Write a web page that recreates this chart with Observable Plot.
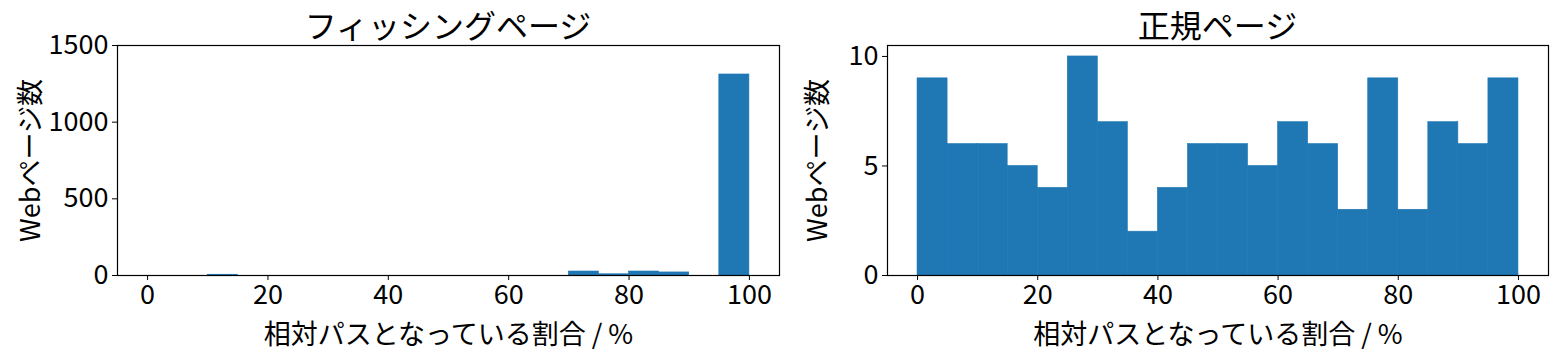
<!DOCTYPE html>
<html><head><meta charset="utf-8">
<script src="https://cdn.jsdelivr.net/npm/d3@7"></script>
<script src="https://cdn.jsdelivr.net/npm/@observablehq/plot@0.6"></script>
<style>
body{margin:0;background:#fff;font-family:"Noto Sans CJK JP","Noto Sans",sans-serif;}
#wrap{display:flex;width:1560px;height:360px;}
.panel{position:relative;}
.title{position:absolute;top:0;height:48px;font-size:32px;line-height:48px;text-align:center;color:#000;}
svg{font-family:"Noto Sans CJK JP","Noto Sans",sans-serif;overflow:visible;}
</style></head>
<body><div id="wrap"><div class="panel" id="p1"></div><div class="panel" id="p2"></div></div>
<script>
const binStarts = [0,5,10,15,20,25,30,35,40,45,50,55,60,65,70,75,80,85,90,95];
const binWidth = 5;
const phishingCounts = [0,0,5,0,0,0,0,0,0,0,0,0,0,0,26,8,26,20,0,1311];
const legitCounts = [9,6,6,5,4,10,7,2,4,6,6,5,7,6,3,9,3,7,6,9];
const titles = ["フィッシングページ","正規ページ"];
const xLabel = "相対パスとなっている割合 / %";
const yLabel = "Webページ数";
const xTicks = [0,20,40,60,80,100];

function make(el, title, counts, yDomain, yTicks, width, ml, mr, labelOffset){
  const data = binStarts.map((s,i)=>({x1:s, x2:s+binWidth, y:counts[i]}));
  const chart = Plot.plot({
    width, height:320, marginLeft:ml, marginRight:mr, marginTop:5, marginBottom:85,
    style:{fontSize:"27px", fontFamily:'"Noto Sans CJK JP","Noto Sans",sans-serif', color:"#000", background:"transparent", overflow:"visible"},
    x:{domain:[-5,105]},
    y:{domain:yDomain},
    marks:[
      Plot.rectY(data,{x1:"x1",x2:"x2",y:"y",fill:"#1f77b4",stroke:"#1f77b4",strokeWidth:0.6,insetLeft:0,insetRight:0}),
      Plot.frame({stroke:"#000",strokeWidth:1.2}),
      Plot.axisX({ticks:xTicks, tickFormat:d=>String(d), tickSize:5, tickPadding:4, label:xLabel, labelAnchor:"center", labelArrow:"none", labelOffset:68, fontSize:27}),
      Plot.axisY({ticks:yTicks, tickFormat:d=>String(d), tickSize:5, tickPadding:4, label:yLabel, labelAnchor:"center", labelArrow:"none", labelOffset:labelOffset, fontSize:27})
    ]
  });
  const t = document.createElement("div");
  t.className="title"; t.textContent=title;
  t.style.left = ml+"px"; t.style.width=(width-ml-mr)+"px";
  el.style.width = width+"px"; el.style.paddingTop="40px";
  el.appendChild(t); el.appendChild(chart);
}
make(document.getElementById("p1"), titles[0], phishingCounts, [0,1500], [0,500,1000,1500], 780, 117, 1, 97);
make(document.getElementById("p2"), titles[1], legitCounts, [0,10.5], [0,5,10], 780, 107, 12, 80);
</script></body></html>
